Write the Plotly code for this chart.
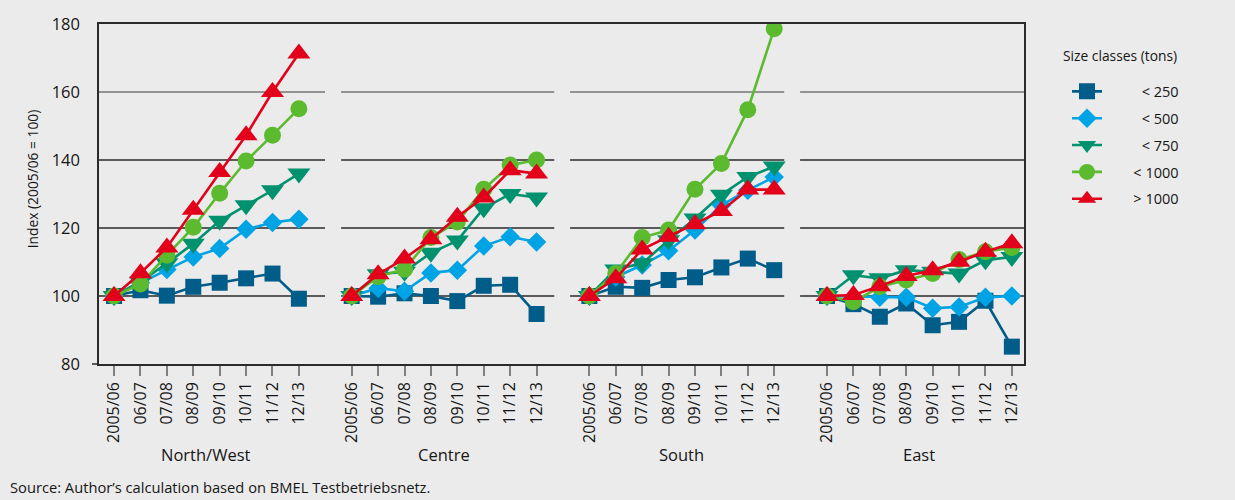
import plotly.graph_objects as go

# Regions (panels) and crop years on the category axis
regions = ["North/West", "Centre", "South", "East"]
years = ["2005/06", "06/07", "07/08", "08/09", "09/10", "10/11", "11/12", "12/13"]

# Index values (2005/06 = 100), one list per region in the order above
lt250 = [
    [100, 101.7, 100.1, 102.7, 103.9, 105.2, 106.6, 99.2],
    [100, 99.8, 100.8, 100.0, 98.5, 103.0, 103.3, 94.7],
    [100, 102.7, 102.4, 104.7, 105.5, 108.4, 111.0, 107.6],
    [100, 97.6, 93.9, 97.8, 91.4, 92.4, 98.6, 85.1],
]
lt500 = [
    [100, 103.9, 107.8, 111.5, 114.0, 119.6, 121.6, 122.6],
    [100, 102.3, 101.4, 106.8, 107.6, 114.7, 117.4, 115.9],
    [100, 105.6, 109.1, 113.3, 119.4, 126.7, 131.1, 135.0],
    [100, 99.8, 99.6, 99.6, 96.4, 96.8, 99.6, 100.0],
]
lt750 = [
    [100, 104.2, 109.6, 115.4, 122.1, 126.7, 131.1, 136.0],
    [100, 106.4, 107.1, 112.7, 116.3, 125.8, 130.0, 129.0],
    [100, 107.8, 109.6, 116.4, 122.8, 129.8, 135.0, 138.1],
    [100, 106.1, 105.2, 107.6, 107.1, 106.6, 110.5, 111.5],
]
lt1000 = [
    [100, 103.5, 112.0, 120.2, 130.2, 139.7, 147.3, 155.1],
    [100, 105.7, 107.9, 117.2, 121.8, 131.4, 138.5, 140.0],
    [100, 106.6, 117.2, 119.4, 131.4, 139.0, 154.8, 178.6],
    [100, 98.3, 102.7, 104.7, 106.6, 110.7, 113.0, 114.3],
]
gt1000 = [
    [100, 106.7, 114.3, 125.4, 136.5, 147.3, 160.0, 171.3],
    [100, 106.4, 111.0, 116.7, 123.3, 129.0, 137.0, 136.0],
    [100, 105.2, 113.7, 117.4, 121.1, 125.0, 131.3, 131.3],
    [100, 100.3, 102.9, 105.9, 107.6, 110.1, 113.0, 115.5],
]

size_classes = ["< 250", "< 500", "< 750", "< 1000", "> 1000"]
series_values = [lt250, lt500, lt750, lt1000, gt1000]
colors = ["#005d89", "#00a3e4", "#00916e", "#5cba2f", "#e2001a"]
symbols = ["square", "diamond", "triangle-down", "circle", "triangle-up"]
marker_sizes = [16, 15, 20, 17, 20]

y_ticks = [80, 100, 120, 140, 160, 180]

SLOT = 9  # 8 years per panel + one empty slot as separation
FONT = "Open Sans"
BG = "#ebebeb"
TXT = "#161616"

W, H = 1235, 500
M_L, M_R, M_T, M_B = 99, 211, 23.5, 136
PLOT_W = W - M_L - M_R
PLOT_H = H - M_T - M_B


def px_to_paper_x(px):
    return (px - M_L) / PLOT_W


def px_to_paper_y(py):
    return (H - M_B - py) / PLOT_H


def panel_x(p):
    return [SLOT * p + i for i in range(len(years))]


fig = go.Figure()

for name, vals, col, sym, ms in zip(size_classes, series_values, colors, symbols, marker_sizes):
    xs, ys = [], []
    for p, region_vals in enumerate(vals):
        xs += panel_x(p) + [None]
        ys += list(region_vals) + [None]
    label = "\u00a0" * 7 + ("\u2007" if len(name) < 6 else "") + name
    fig.add_trace(go.Scatter(
        x=xs, y=ys, name=label, mode="lines+markers",
        legendgroup=name,
        line=dict(color=col, width=2.6),
        marker=dict(symbol=sym, size=ms, color=col, line=dict(width=0)),
        connectgaps=False,
        hoverinfo="skip",
    ))

# Horizontal grid segments, interrupted between the regional panels
grid_segments = [(-0.57, 7.99), (8.6, 16.67), (17.27, 25.38), (25.98, 34.46)]
shapes = []
for v in y_ticks[1:-1]:
    col = "#767676" if v == 160 else "#2a2a2a"
    for x0, x1 in grid_segments:
        shapes.append(dict(type="line", xref="x", yref="y", x0=x0, x1=x1, y0=v, y1=v,
                           line=dict(color=col, width=1.4), layer="below"))
# small outward tick at the bottom-left corner
shapes.append(dict(type="line", xref="paper", yref="paper", x0=px_to_paper_x(92), x1=0, y0=0, y1=0,
                   line=dict(color="#2a2a2a", width=1.5)))

tickvals, ticktext = [], []
for p in range(len(regions)):
    tickvals += panel_x(p)
    ticktext += years

annotations = []
for p, reg in enumerate(regions):
    annotations.append(dict(
        x=SLOT * p + (len(years) - 1) / 2, xref="x", y=px_to_paper_y(455), yref="paper",
        text=reg, showarrow=False, font=dict(family=FONT, size=16.5, color=TXT),
        xanchor="center", yanchor="middle"))

annotations.append(dict(
    x=px_to_paper_x(32), xref="paper", y=px_to_paper_y(179), yref="paper",
    text="Index (2005/06 = 100)", textangle=-90, showarrow=False,
    font=dict(family=FONT, size=13.8, color=TXT), xanchor="center", yanchor="middle"))

annotations.append(dict(
    x=px_to_paper_x(8), xref="paper", y=px_to_paper_y(487), yref="paper",
    text="Source: Author\u2019s calculation based on BMEL Testbetriebsnetz.", showarrow=False,
    font=dict(family=FONT, size=14.7, color=TXT), xanchor="left", yanchor="middle"))

annotations.append(dict(
    x=px_to_paper_x(1061), xref="paper", y=px_to_paper_y(55), yref="paper",
    text="Size classes (tons)", showarrow=False,
    font=dict(family=FONT, size=13.8, color=TXT), xanchor="left", yanchor="middle"))

fig.update_layout(
    width=W, height=H,
    margin=dict(l=M_L, r=M_R, t=M_T, b=M_B, autoexpand=False),
    paper_bgcolor=BG, plot_bgcolor=BG,
    font=dict(family=FONT, color=TXT),
    showlegend=True,
    legend=dict(
        x=px_to_paper_x(1067), xref="paper", y=px_to_paper_y(75), yref="paper",
        xanchor="left", yanchor="top",
        bgcolor="rgba(0,0,0,0)", font=dict(family=FONT, size=14.5, color=TXT),
        tracegroupgap=5, itemsizing="trace",
    ),
    xaxis=dict(
        range=[-0.57, 34.46], tickmode="array", tickvals=tickvals, ticktext=ticktext,
        tickangle=-90, tickfont=dict(family=FONT, size=16, color=TXT),
        ticks="outside", ticklen=10, tickwidth=1.5, tickcolor="#808080",
        showgrid=False, zeroline=False,
        showline=True, linecolor="#2a2a2a", linewidth=1.5, mirror=True,
    ),
    yaxis=dict(
        range=[80, 180], tickvals=y_ticks, ticks="",
        tickfont=dict(family=FONT, size=16.5, color=TXT), ticklabelstandoff=14,
        showgrid=False, zeroline=False,
        showline=True, linecolor="#2a2a2a", linewidth=1.5, mirror=True,
    ),
    shapes=shapes,
    annotations=annotations,
)

fig.write_html("out.html")
